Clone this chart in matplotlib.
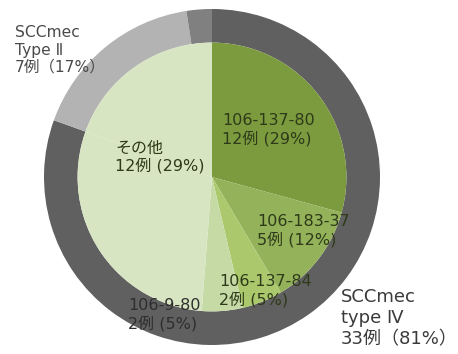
import matplotlib
matplotlib.use("Agg")
import matplotlib.pyplot as plt

plt.rcParams['font.family'] = ['DejaVu Sans', 'Noto Sans CJK JP']

# outer ring: SCCmec type
outer_labels = ['SCCmec\ntype Ⅳ\n33例（81%）', 'SCCmec\nType Ⅱ\n7例（17%）', '']
outer_vals = [33, 7, 1]
outer_colors = ['#606060', '#b3b3b3', '#808080']

# inner pie: strains (rest of the circle drawn in the same colour as その他)
inner_labels = ['106-137-80\n12例 (29%)', '106-183-37\n5例 (12%)', '106-137-84\n2例 (5%)',
                '106-9-80\n2例 (5%)', 'その他\n12例 (29%)', '']
inner_vals = [12, 5, 2, 2, 12, 8]
inner_colors = ['#7b9b3e', '#93b25a', '#abc96c', '#c6daa6', '#d7e5c2', '#d7e5c2']

W, H = 458, 354
fig = plt.figure(figsize=(W / 100, H / 100), dpi=100)
cx, cy, R = 212, 177, 168
ax = fig.add_axes([(cx - R) / W, (H - cy - R) / H, 2 * R / W, 2 * R / H])

ax.pie(outer_vals, colors=outer_colors, radius=1.0, startangle=90, counterclock=False,
       wedgeprops=dict(width=0.2, linewidth=0))
ax.pie(inner_vals, colors=inner_colors, radius=0.8, startangle=90, counterclock=False,
       wedgeprops=dict(linewidth=0))
ax.set_xlim(-1, 1)
ax.set_ylim(-1, 1)
ax.set_aspect('equal')
ax.axis('off')

# label positions in pixels (left x, block centre y) and font sizes
lab_pos = {
    outer_labels[0]: (341, 318, 13, '#3a3a3a'),
    outer_labels[1]: (15, 50, 11.2, '#4a4a4a'),
    inner_labels[0]: (222, 130, 11.5, '#2e3a1a'),
    inner_labels[1]: (257, 231, 11.5, '#2e3a1a'),
    inner_labels[2]: (219, 291, 11.5, '#2e3a1a'),
    inner_labels[3]: (128, 315, 11.5, '#2e2e2e'),
    inner_labels[4]: (115, 157, 11.5, '#2e3a1a'),
}
for txt, (x, y, fs, col) in lab_pos.items():
    fig.text(x / W, 1 - y / H, txt, ha='left', va='center', fontsize=fs,
             color=col, linespacing=1.2)

fig.savefig('out.png', dpi=100)
